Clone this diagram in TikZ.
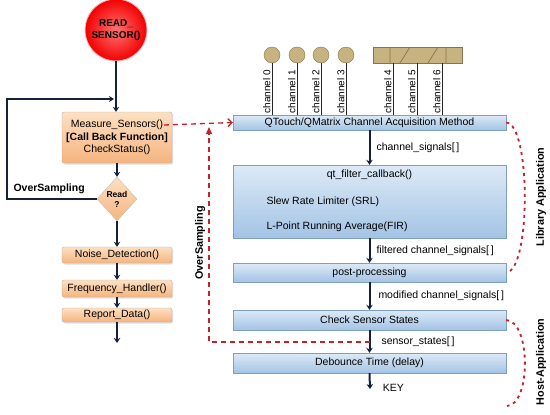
\documentclass[tikz,border=0pt]{standalone}
\usepackage{fontspec}
\setmainfont{Liberation Sans}
\usetikzlibrary{shapes.geometric,arrows.meta,shadows}
\definecolor{navy}{HTML}{15203A}
\definecolor{orangetop}{HTML}{FDE0C2}
\definecolor{orangebot}{HTML}{F5B47E}
\definecolor{bluetop}{HTML}{DDEAF7}
\definecolor{bluebot}{HTML}{A3C3E4}
\definecolor{bluedraw}{HTML}{7E9FC2}
\definecolor{padfill}{HTML}{C7B37F}
\definecolor{paddraw}{HTML}{857549}
\definecolor{dashred}{HTML}{C8202A}
\begin{document}
\begin{tikzpicture}[x=1pt,y=-1pt,
    font=\fontsize{10.5}{12.5}\selectfont,
    flow/.style={draw=navy,line width=2pt,-{Stealth[length=5pt,width=6.5pt]}},
    orangebox/.style={draw=gray!60,rounded corners=2pt,top color=orangetop,bottom color=orangebot,
        minimum width=110pt,inner sep=0pt,drop shadow={opacity=0.25,shadow xshift=1.2pt,shadow yshift=-1.5pt}},
    bluebox/.style={draw=bluedraw,top color=bluetop,bottom color=bluebot,minimum width=273pt,inner sep=0pt,
        drop shadow={opacity=0.2,shadow xshift=1pt,shadow yshift=-1.2pt}},
    sigtext/.style={anchor=west,inner sep=1pt},
    pad/.style={circle,draw=paddraw,fill=padfill,minimum size=16pt,inner sep=0pt},
    wire/.style={draw=black!85,line width=0.9pt},
    chlabel/.style={rotate=90,anchor=south west,inner sep=1pt,font=\fontsize{10}{11}\selectfont},
    reddash/.style={draw=dashred,line width=1.3pt,dash pattern=on 5pt off 4pt},
    reddot/.style={draw=dashred,line width=1.8pt,dash pattern=on 3pt off 4pt},
    sidelabel/.style={rotate=90,font=\fontsize{10.8}{12}\selectfont\bfseries}]

    \useasboundingbox (0,0) rectangle (550,415);

    \node[circle,draw=red!30,line width=0.8pt,inner color=red!55!white,outer color=red!95!black,
        minimum size=56pt,align=center,font=\fontsize{10}{12}\selectfont\bfseries] (read) at (116,30) {READ\_\\SENSOR()};

    \node[orangebox,minimum height=51pt,align=center,font=\fontsize{10.5}{12.5}\selectfont] (measure) at (117,137.5)
        {Measure\_Sensors()\\\textbf{[Call Back Function]}\\CheckStatus()};
    \node[diamond,draw=gray!50,top color=orangetop,bottom color=orangebot,minimum width=40pt,minimum height=44pt,
        inner sep=0pt,align=center,font=\fontsize{8.5}{10}\selectfont\bfseries] (readq) at (117,199) {Read\\?};
    \node[orangebox,minimum height=16pt] (noise) at (117,255) {Noise\_Detection()};
    \node[orangebox,minimum height=17pt] (freq) at (117,288.5) {Frequency\_Handler()};
    \node[orangebox,minimum height=14pt] (report) at (117,315) {Report\_Data()};
    \coordinate (leftend) at (117,343);

    \draw[flow] (read.south) -- (read.south |- measure.north);
    \draw[flow] (measure.south) -- (readq.north);
    \draw[flow] (readq.south) -- (noise.north);
    \draw[flow] (noise.south) -- (freq.north);
    \draw[flow] (freq.south) -- (report.north);
    \draw[flow] (report.south) -- (leftend);

    \coordinate (loopcorner) at (7,199);
    \coordinate (loopend) at (114,99);
    \draw[draw=navy,line width=1.6pt,-{Stealth[length=5pt,width=6pt]}] (readq.west) -- (loopcorner) |- (loopend);
    \node[anchor=west,font=\fontsize{10.5}{12}\selectfont\bfseries] (osleft) at (10,189) {OverSampling};

    \node[bluebox,minimum height=15pt] (qtouch) at (369.5,122.5) {QTouch/QMatrix Channel Acquisition Method};
    \node[bluebox,minimum height=73pt] (filter) at (369.5,201.5) {};
    \node (filt1) at (369.5,175) {qt\_filter\_callback()};
    \node[anchor=west] (filt2) at (263,202) {Slew Rate Limiter (SRL)};
    \node[anchor=west] (filt3) at (263,227) {L-Point Running Average(FIR)};
    \node[bluebox,minimum height=19pt] (post) at (369.5,272.5) {post-processing};
    \node[bluebox,minimum height=20pt] (check) at (369.5,320) {Check Sensor States};
    \node[bluebox,minimum height=20pt] (debounce) at (369.5,363) {Debounce Time (delay)};
    \coordinate (keyend) at (370,389);

    \draw[flow] (qtouch.south) -- (filter.north) node[sigtext,midway,xshift=5pt] (sig1) {channel\_signals[\,]};
    \draw[flow] (filter.south) -- (post.north) node[sigtext,midway,xshift=5pt] (sig2) {filtered channel\_signals[\,]};
    \draw[flow] (post.south) -- (check.north) node[sigtext,midway,xshift=7pt] (sig3) {modified channel\_signals[\,]};
    \draw[flow] (check.south) -- (debounce.north) node[sigtext,midway,xshift=10pt] (sig4) {sensor\_states[\,]};
    \draw[flow] (debounce.south) -- (keyend) node[sigtext,pos=0.9,xshift=11pt] (key) {KEY};

    \foreach \n/\x in {0/272,1/297,2/321,3/346} {
        \node[pad] (c\n) at (\x,55) {};
        \draw[wire] (c\n.south) -- (c\n.south |- qtouch.north) node[chlabel] {channel \n};
    }

    \node[draw=paddraw,fill=padfill,minimum width=89pt,minimum height=16pt,inner sep=0pt] (slider) at (417.5,55) {};
    \draw[paddraw,line width=0.7pt] (390,47) -- (390,63) (446,47) -- (446,63)
        (400,63) -- (410,47) (428,63) -- (438,47);
    \foreach \n/\x in {4/393,5/417,6/442} {
        \coordinate (s\n) at (\x,63);
        \draw[wire] (s\n) -- (s\n |- qtouch.north) node[chlabel] {channel \n};
    }

    \draw[reddash,-{Straight Barb[length=4pt,width=8pt,line width=1.3pt]}] (164,125) -- (qtouch.west);
    \coordinate (osstart) at (370,342);
    \coordinate (oscorner) at (209,342);
    \coordinate (osend) at (209,127);
    \draw[reddash,-{Triangle[length=7pt,width=6pt]}] (osstart) -- (oscorner) -- (osend);
    \node[sidelabel] (osright) at (200,243) {OverSampling};

    \coordinate (hostend) at (507,406);
    \draw[reddot] (qtouch.east) .. controls (531,124) and (531,271) .. (post.east);
    \draw[reddot] (check.east) .. controls (531,321) and (531,405) .. (hostend);
    \node[sidelabel] (lib) at (541,197) {Library Application};
    \node[sidelabel] (host) at (541,362) {Host-Application};

\end{tikzpicture}
\end{document}
